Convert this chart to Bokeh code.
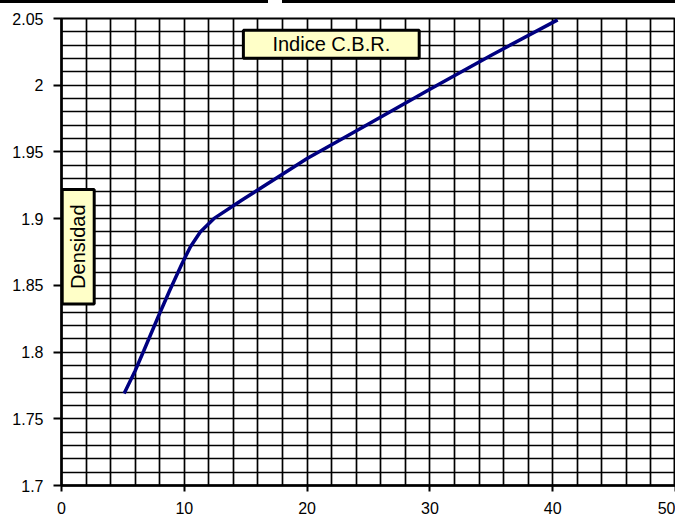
from math import pi

from bokeh.plotting import figure
from bokeh.layouts import column, row
from bokeh.models import FixedTicker, Label, Range1d, Div
from bokeh.embed import file_html
from bokeh.resources import INLINE

# ---- data ----
cbr = [5.1, 6.0, 6.7, 7.9, 8.8, 9.8, 10.5, 11.3, 12.4, 14.7, 20.0, 25.0, 30.0, 35.0, 40.4]
densidad = [1.769, 1.786, 1.801, 1.827, 1.846, 1.866, 1.879, 1.890, 1.900, 1.914,
            1.945, 1.971, 1.997, 2.0225, 2.049]

x_ticks = [0, 10, 20, 30, 40, 50]
x_tick_labels = ["0", "10", "20", "30", "40", "50"]
y_ticks = [1.7, 1.75, 1.8, 1.85, 1.9, 1.95, 2.0, 2.05]
y_tick_labels = ["1.7", "1.75", "1.8", "1.85", "1.9", "1.95", "2", "2.05"]

x_grid = list(range(0, 51, 2))
y_grid = [round(1.70 + 0.01 * i, 2) for i in range(36)]

x_title = "Indice C.B.R."
y_title = "Densidad"

FONT = "Liberation Sans"

p = figure(width=675, height=516, output_backend="svg", toolbar_location=None,
           x_range=Range1d(0, 50), y_range=Range1d(1.7, 2.05),
           min_border_left=61, min_border_right=0, min_border_top=15, min_border_bottom=34)
p.background_fill_color = "white"
p.border_fill_color = "white"
p.outline_line_color = "black"
p.outline_line_width = 2

# grid
p.xgrid.ticker = FixedTicker(ticks=x_grid)
p.ygrid.ticker = FixedTicker(ticks=y_grid)
for g in (p.xgrid, p.ygrid):
    g.grid_line_color = "black"
    g.grid_line_width = 1.7
    g.grid_line_alpha = 1.0

# axes
p.xaxis.ticker = FixedTicker(ticks=x_ticks, minor_ticks=[])
p.yaxis.ticker = FixedTicker(ticks=y_ticks, minor_ticks=[])
p.xaxis.major_label_overrides = {t: l for t, l in zip(x_ticks, x_tick_labels)}
p.yaxis.major_label_overrides = {t: l for t, l in zip(y_ticks, y_tick_labels)}
for ax in (p.xaxis, p.yaxis):
    ax.axis_line_color = "black"
    ax.axis_line_width = 2.5
    ax.major_tick_line_color = "black"
    ax.major_tick_line_width = 2
    ax.major_tick_in = 0
    ax.minor_tick_line_color = None
    ax.major_label_text_font = FONT
    ax.major_label_text_font_size = "16px"
    ax.major_label_text_color = "black"
p.yaxis.major_tick_out = 8
p.yaxis.major_label_standoff = 10
p.xaxis.major_tick_out = 6
p.xaxis.major_label_standoff = 10

# data line
p.line(cbr, densidad, line_color="#000080", line_width=3.5)

# axis titles as boxed labels inside the plot
p.add_layout(Label(x=21.97, y=2.0307, text=x_title, text_align="center", text_baseline="middle",
                   text_font=FONT, text_font_size="20px", text_color="black",
                   background_fill_color="#FFFFC8", border_line_color="black",
                   border_line_width=3, padding=(29, 3)))
p.add_layout(Label(x=1.36, y=1.879, text=y_title, angle=pi / 2, text_align="center",
                   text_baseline="middle", text_font=FONT, text_font_size="20px",
                   text_color="black", background_fill_color="#FFFFC8",
                   border_line_color="black", border_line_width=3, padding=(15, 5)))

# cropped table borders along the top edge of the picture
bar_left = Div(width=268, height=3, margin=0, styles={"background-color": "#000000"})
bar_gap = Div(width=14, height=3, margin=0)
bar_right = Div(width=393, height=3, margin=0, styles={"background-color": "#000000"})
top_edge = row(bar_left, bar_gap, bar_right, spacing=0, margin=0)

layout = column(top_edge, p, spacing=0)
open("out.html", "w").write(file_html(layout, INLINE))
